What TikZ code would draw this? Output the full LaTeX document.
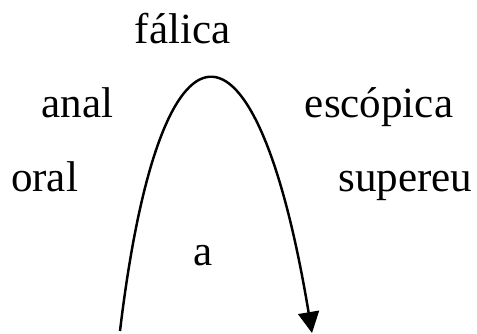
\documentclass[tikz,border=0pt]{standalone}
\usepackage{fontspec}
\setmainfont{Liberation Serif}
\usetikzlibrary{arrows.meta}

\begin{document}
\begin{tikzpicture}[stage/.style={anchor=base, inner sep=0pt, font=\fontsize{24.5pt}{28pt}\selectfont}]
	\useasboundingbox (0, 0) rectangle (9.54, 6.66);
	\node [stage] (falica) at (3.65, 5.80) {fálica};
	\node [stage] (anal) at (1.55, 4.32) {anal};
	\node [stage] (escopica) at (7.58, 4.32) {escópica};
	\node [stage] (oral) at (0.89, 2.84) {oral};
	\node [stage] (supereu) at (8.11, 2.84) {supereu};
	\node [stage] (objeto) at (4.07, 1.36) {a};
	\coordinate (start) at (2.40, 0.04);
	\coordinate (end) at (6.24, 0.0);
	\draw [-{Triangle[length=0.42cm, width=0.42cm]}, line width=1.4pt] (start) .. controls (3.20, 6.76) and (5.12, 6.76) .. (end);
\end{tikzpicture}
\end{document}
